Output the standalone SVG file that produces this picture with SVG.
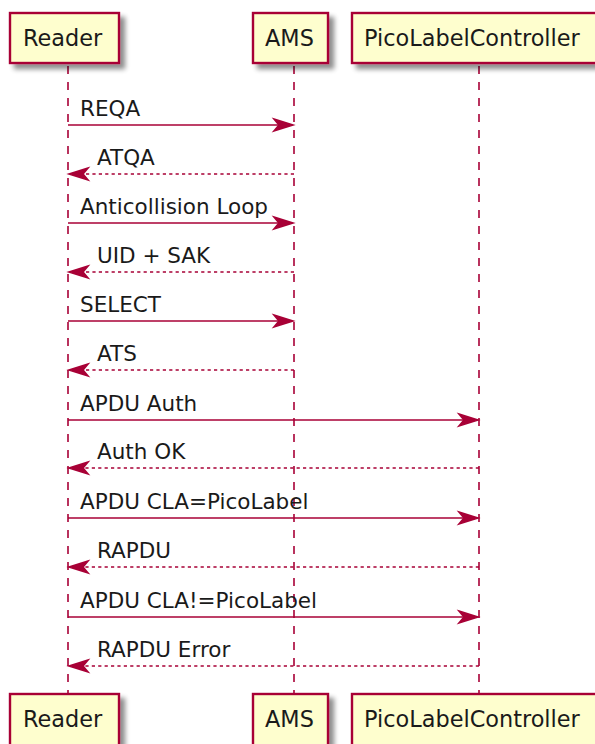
<svg xmlns="http://www.w3.org/2000/svg" width="595" height="744" viewBox="0 0 595 744">
<style>
.box{fill:#FEFECE;stroke:#A80036;stroke-width:2.4;filter:url(#sh)}
.pt{font-family:"DejaVu Sans",sans-serif;font-size:22.4px;fill:#1a1a1a}
.life{stroke:#A80036;stroke-width:1.6;stroke-dasharray:8,8;fill:none}
.msg{stroke:#A80036;stroke-width:1.6;fill:none}
.ret{stroke:#A80036;stroke-width:1.6;fill:none;stroke-dasharray:3.2,3.2}
.head{fill:#A80036;stroke:#A80036;stroke-width:1.6}
.mt{font-family:"DejaVu Sans",sans-serif;font-size:21.5px;fill:#1a1a1a}
</style>
<defs>
<filter id="sh" x="-20%" y="-20%" width="150%" height="160%">
<feGaussianBlur in="SourceAlpha" stdDeviation="2.5"/>
<feOffset dx="5" dy="5" result="b"/>
<feComponentTransfer><feFuncA type="linear" slope="0.45"/></feComponentTransfer>
<feMerge><feMergeNode/><feMergeNode in="SourceGraphic"/></feMerge>
</filter>
</defs>
<rect width="595" height="744" fill="#fff"/>
<g id="lifelines">
<line class="life" x1="68" y1="66" x2="68" y2="694"/>
<line class="life" x1="294" y1="66" x2="294" y2="694"/>
<line class="life" x1="479" y1="66" x2="479" y2="694"/>
</g>
<g id="Reader">
<rect class="box" x="10" y="13" width="109" height="50"/>
<text class="pt" x="23" y="46">Reader</text>
<rect class="box" x="10" y="694" width="109" height="60"/>
<text class="pt" x="23" y="727">Reader</text>
</g>
<g id="AMS">
<rect class="box" x="253" y="13" width="75" height="50"/>
<text class="pt" x="265" y="46">AMS</text>
<rect class="box" x="253" y="694" width="75" height="60"/>
<text class="pt" x="265" y="727">AMS</text>
</g>
<g id="PicoLabelController">
<rect class="box" x="352" y="13" width="248" height="50"/>
<text class="pt" x="364" y="46">PicoLabelController</text>
<rect class="box" x="352" y="694" width="248" height="60"/>
<text class="pt" x="364" y="727">PicoLabelController</text>
</g>
<g id="connectors">
<line class="msg" x1="68" y1="125" x2="290" y2="125"/>
<polygon class="head" points="274,119 293,125 274,131 279,125"/>
<text class="mt" x="80" y="116">REQA</text>

<line class="ret" x1="294" y1="174" x2="71" y2="174"/>
<polygon class="head" points="88,168 69,174 88,180 83,174"/>
<text class="mt" x="97" y="165">ATQA</text>

<line class="msg" x1="68" y1="223" x2="290" y2="223"/>
<polygon class="head" points="274,217 293,223 274,229 279,223"/>
<text class="mt" x="80" y="214">Anticollision Loop</text>

<line class="ret" x1="294" y1="272" x2="71" y2="272"/>
<polygon class="head" points="88,266 69,272 88,278 83,272"/>
<text class="mt" x="97" y="263">UID + SAK</text>

<line class="msg" x1="68" y1="321" x2="290" y2="321"/>
<polygon class="head" points="274,315 293,321 274,327 279,321"/>
<text class="mt" x="80" y="312">SELECT</text>

<line class="ret" x1="294" y1="370" x2="71" y2="370"/>
<polygon class="head" points="88,364 69,370 88,376 83,370"/>
<text class="mt" x="97" y="361">ATS</text>

<line class="msg" x1="68" y1="420" x2="475" y2="420"/>
<polygon class="head" points="459,414 478,420 459,426 464,420"/>
<text class="mt" x="80" y="411">APDU Auth</text>

<line class="ret" x1="479" y1="468" x2="71" y2="468"/>
<polygon class="head" points="88,462 69,468 88,474 83,468"/>
<text class="mt" x="97" y="459">Auth OK</text>

<line class="msg" x1="68" y1="518" x2="475" y2="518"/>
<polygon class="head" points="459,512 478,518 459,524 464,518"/>
<text class="mt" x="80" y="509">APDU CLA=PicoLabel</text>

<line class="ret" x1="479" y1="567" x2="71" y2="567"/>
<polygon class="head" points="88,561 69,567 88,573 83,567"/>
<text class="mt" x="97" y="558">RAPDU</text>

<line class="msg" x1="68" y1="617" x2="475" y2="617"/>
<polygon class="head" points="459,611 478,617 459,623 464,617"/>
<text class="mt" x="80" y="608">APDU CLA!=PicoLabel</text>

<line class="ret" x1="479" y1="666" x2="71" y2="666"/>
<polygon class="head" points="88,660 69,666 88,672 83,666"/>
<text class="mt" x="97" y="657">RAPDU Error</text>
</g>
</svg>
